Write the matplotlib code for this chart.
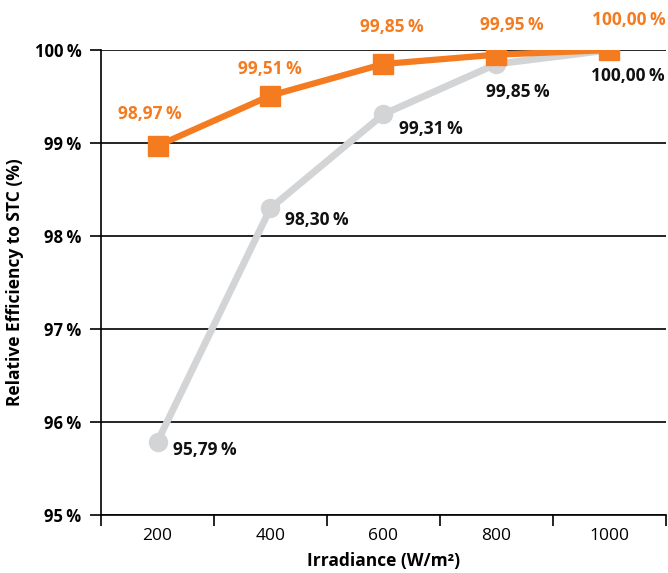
import matplotlib
matplotlib.use('Agg')
import matplotlib.pyplot as plt

irradiance = ['200', '400', '600', '800', '1000']
eff_orange = [98.97, 99.51, 99.85, 99.95, 100.00]
eff_gray = [95.79, 98.30, 99.31, 99.85, 100.00]
yticks = [95, 96, 97, 98, 99, 100]

ORANGE = '#F47B20'
GRAY = '#D3D4D6'

plt.rcParams['font.family'] = ['Open Sans', 'DejaVu Sans']

fig = plt.figure(figsize=(6.68, 5.73), dpi=100)
ax = fig.add_axes([0.1512, 0.1012, 0.8458, 0.8115])

x = list(range(len(irradiance)))

ax.plot(x, eff_gray, color=GRAY, lw=5, marker='o', ms=13, zorder=3,
        solid_capstyle='round')
ax.plot(x, eff_orange, color=ORANGE, lw=4.5, marker='s', ms=15, zorder=4)


def fmt(v):
    return ('%.2f' % v).replace('.', ',') + '\u202f%'


# label offsets in pixels (dx, dy)
orange_off = [(-8, 32), (-1, 27), (8, 37), (15, 30), (19, 30)]
gray_off = [(15, -8), (15, -12), (16, -15), (-10, -28), (-18, -26)]

for i, v in enumerate(eff_orange):
    dx, dy = orange_off[i]
    ax.annotate(fmt(v), (x[i], v), xytext=(dx * 0.72, dy * 0.72),
                textcoords='offset points', ha='center', va='center',
                color=ORANGE, fontsize=12.5, fontweight='bold', zorder=6)

for i, v in enumerate(eff_gray):
    dx, dy = gray_off[i]
    ax.annotate(fmt(v), (x[i], v), xytext=(dx * 0.72, dy * 0.72),
                textcoords='offset points', ha='left', va='center',
                color='#111111', fontsize=12.5, fontweight='bold', zorder=6)

ax.set_ylim(95, 100)
ax.set_xlim(-0.5, len(irradiance) - 0.5)
ax.set_yticks(yticks)
ax.set_yticklabels(['%d\u202f%%' % t for t in yticks], fontweight='bold',
                   fontsize=12)
ax.set_xticks(x)
ax.set_xticklabels(irradiance, fontsize=12.5)
ax.set_xticks([i - 0.5 for i in range(len(irradiance) + 1)], minor=True)
ax.tick_params(axis='x', which='major', length=0, pad=9)
ax.tick_params(axis='x', which='minor', length=8, width=1.2, color='black')
ax.tick_params(axis='y', length=8, width=1.2, color='black', pad=6)

ax.yaxis.grid(True, color='black', lw=1.2)
ax.set_axisbelow(True)
for s in ['top', 'right']:
    ax.spines[s].set_visible(False)
for s in ['left', 'bottom']:
    ax.spines[s].set_linewidth(1.2)
    ax.spines[s].set_color('black')

ax.set_xlabel('Irradiance (W/m\u00b2)', fontsize=12.5, fontweight='bold',
              labelpad=6)
ax.set_ylabel('Relative Efficiency to STC (%)', fontsize=12.5,
              fontweight='bold', labelpad=8)

fig.savefig('out.png', dpi=100)
